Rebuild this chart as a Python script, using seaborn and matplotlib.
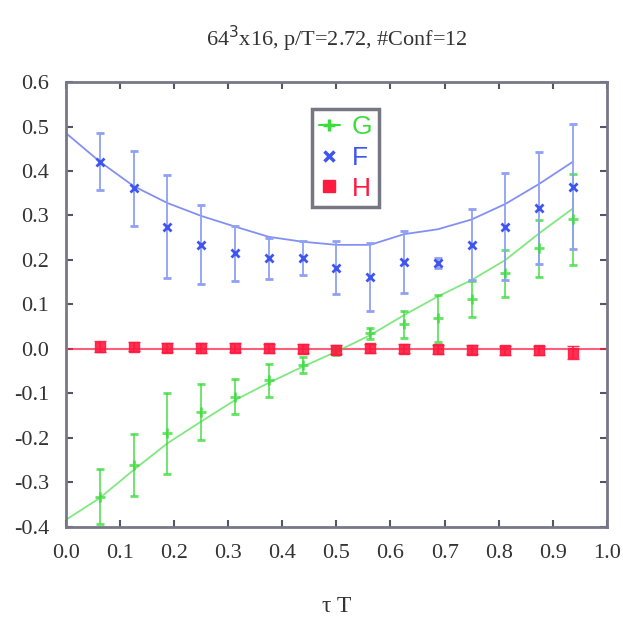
import seaborn as sns
import matplotlib.pyplot as plt
from matplotlib.lines import Line2D

# tau*T positions of the lattice points
tau = [0.0625, 0.125, 0.1875, 0.25, 0.3125, 0.375, 0.4375, 0.5,
       0.5625, 0.625, 0.6875, 0.75, 0.8125, 0.875, 0.9375]

G_val = [-0.332, -0.261, -0.190, -0.141, -0.107, -0.070, -0.036, -0.003,
         0.035, 0.055, 0.069, 0.112, 0.170, 0.226, 0.291]
G_err = [0.062, 0.070, 0.090, 0.063, 0.039, 0.037, 0.019, 0.010,
         0.012, 0.030, 0.053, 0.040, 0.053, 0.064, 0.103]

F_val = [0.421, 0.361, 0.275, 0.234, 0.215, 0.204, 0.204, 0.183,
         0.162, 0.196, 0.193, 0.234, 0.275, 0.316, 0.365]
F_err = [0.064, 0.084, 0.116, 0.089, 0.062, 0.046, 0.038, 0.060,
         0.077, 0.070, 0.012, 0.080, 0.121, 0.126, 0.141]

H_val = [0.005, 0.005, 0.003, 0.003, 0.003, 0.002, 0.000, -0.002,
         0.002, 0.000, -0.001, -0.002, -0.003, -0.003, -0.008]
H_err = [0.012, 0.010, 0.010, 0.011, 0.010, 0.010, 0.010, 0.010,
         0.010, 0.010, 0.010, 0.010, 0.010, 0.010, 0.014]

# fitted curves
fit_tau = [0.0, 0.0625, 0.125, 0.1875, 0.25, 0.3125, 0.375, 0.4375, 0.5,
           0.5625, 0.625, 0.6875, 0.75, 0.8125, 0.875, 0.9375]
F_fit = [0.485, 0.421, 0.366, 0.328, 0.299, 0.275, 0.252, 0.241, 0.234,
         0.234, 0.258, 0.269, 0.291, 0.326, 0.371, 0.421]
G_fit = [-0.384, -0.335, -0.272, -0.212, -0.163, -0.115, -0.076, -0.040, -0.006,
         0.031, 0.076, 0.118, 0.155, 0.200, 0.260, 0.316]

g_col = '#3ddc3d'
f_col = '#3f55ee'
h_col = '#ff1a40'

sns.set_style('ticks')
plt.rcParams['font.family'] = ['Liberation Serif', 'DejaVu Serif']

fig = plt.figure(figsize=(6.23, 6.31), dpi=100)
ax = fig.add_axes([0.106, 0.165, 0.868, 0.705])

ax.axhline(0, color=h_col, lw=1.5, alpha=0.7, zorder=1)
sns.lineplot(x=fit_tau, y=F_fit, color=f_col, lw=1.3, alpha=0.65, ax=ax)
sns.lineplot(x=fit_tau, y=G_fit, color=g_col, lw=1.3, alpha=0.65, ax=ax)

ax.errorbar(tau, G_val, yerr=G_err, fmt='+', color=g_col, ms=7, mew=2,
            elinewidth=1.3, capsize=3, alpha=0.8)
ax.errorbar(tau, F_val, yerr=F_err, fmt='x', color=f_col, ms=6, mew=2,
            ecolor='#8fa0f5', elinewidth=1.3, capsize=3)
ax.errorbar(tau, H_val, yerr=H_err, fmt='s', color=h_col, ms=7,
            elinewidth=1.3, capsize=4, alpha=0.9)

ax.set_xlim(0, 1.0)
ax.set_ylim(-0.4, 0.6)
ax.set_xticks([i / 10 for i in range(11)])
ax.set_yticks([-0.4, -0.3, -0.2, -0.1, 0.0, 0.1, 0.2, 0.3, 0.4, 0.5, 0.6])
ax.xaxis.set_major_formatter(plt.FormatStrFormatter('%.1f'))
ax.yaxis.set_major_formatter(plt.FormatStrFormatter('%.1f'))
ax.tick_params(direction='in', top=True, right=True, length=5, width=1.5,
               color='#555566', labelsize=16, pad=12, labelcolor='#333333')
for s in ax.spines.values():
    s.set_color('#777788')
    s.set_linewidth(2)

ax.set_xlabel('τ T', fontsize=17, labelpad=24, color='#333333')
ax.set_title('64$^3$x16, p/T=2.72, #Conf=12', fontsize=16, pad=26, color='#333333')

handles = [
    Line2D([], [], color=g_col, marker='+', ms=9, mew=2.5, lw=1.5),
    Line2D([], [], color=f_col, marker='x', ms=7, mew=2.5, lw=0),
    Line2D([], [], color=h_col, marker='s', ms=8, lw=0),
]
leg = ax.legend(handles, ['G', 'F', 'H'], loc='upper left',
                bbox_to_anchor=(0.455, 0.94), handlelength=0.8,
                prop={'family': 'Liberation Sans', 'size': 19},
                labelcolor=[g_col, f_col, h_col], frameon=True, fancybox=False,
                borderpad=0.25, labelspacing=0.25, handletextpad=0.45,
                borderaxespad=0)
leg.get_frame().set_edgecolor('#555566')
leg.get_frame().set_linewidth(2.5)

plt.savefig('out.png', dpi=100)
